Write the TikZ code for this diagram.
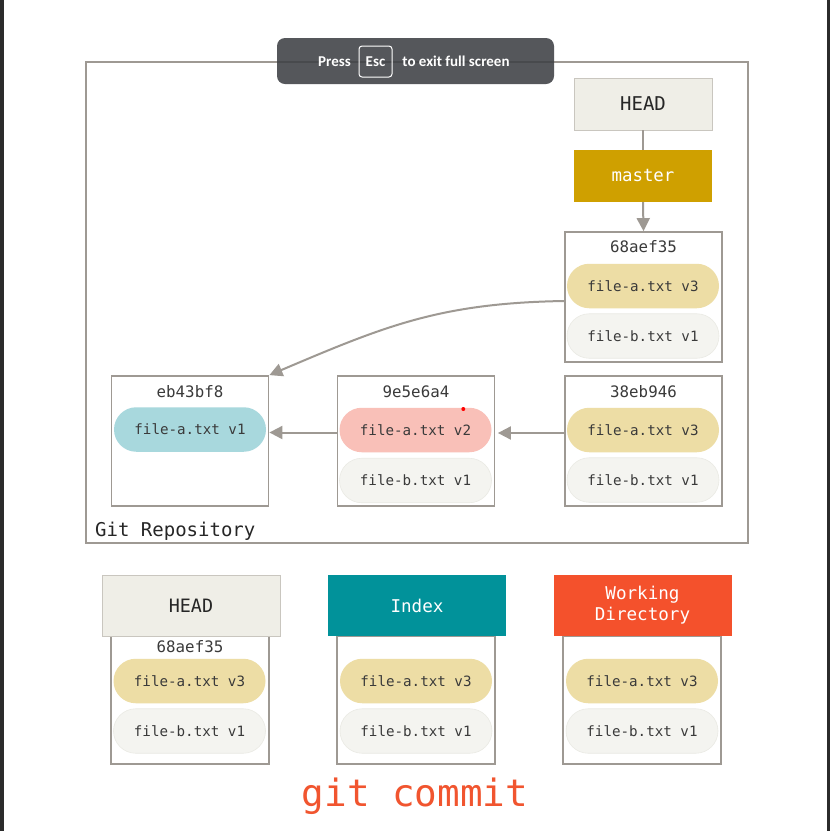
\documentclass[tikz,border=0pt]{standalone}
\usepackage{fontspec}
\setmonofont{DejaVu Sans Mono}
\newfontfamily\uifont{Carlito}
\usetikzlibrary{arrows.meta,shapes.misc,calc}
\definecolor{linec}{HTML}{9E9993}
\definecolor{headfill}{HTML}{EFEEE7}
\definecolor{headdraw}{HTML}{C9C6BF}
\definecolor{masterc}{HTML}{CFA000}
\definecolor{pillA}{HTML}{EDDDA5}
\definecolor{pillB}{HTML}{F4F4F0}
\definecolor{pillBd}{HTML}{EAEAE4}
\definecolor{pillC}{HTML}{A8D8DD}
\definecolor{pillP}{HTML}{F9C0B8}
\definecolor{tealc}{HTML}{01929A}
\definecolor{orangec}{HTML}{F4512C}
\definecolor{cmdc}{HTML}{F1552F}
\definecolor{txtc}{HTML}{3A3A3A}
\definecolor{overlayc}{HTML}{3C3F43}
\definecolor{stripc}{HTML}{2B2B2B}
\tikzset{
  commitbox/.style={draw=linec, line width=1.8pt, fill=white, minimum width=157pt, minimum height=130pt, inner sep=0pt},
  pill/.style={rounded rectangle, minimum width=152pt, minimum height=44.5pt, inner sep=0pt, font=\ttfamily\fontsize{14.2}{16}\selectfont, text=txtc},
  pilla/.style={pill, fill=pillA},
  pillb/.style={pill, fill=pillB, draw=pillBd, line width=0.6pt},
  pillc/.style={pill, fill=pillC},
  pillp/.style={pill, fill=pillP},
  hashlbl/.style={font=\ttfamily\fontsize{15.8}{18}\selectfont, text=txtc, inner sep=0pt},
  refbox/.style={minimum width=138pt, minimum height=52pt, inner sep=0pt},
  hdrbox/.style={minimum width=178pt, minimum height=61pt, inner sep=0pt, font=\ttfamily\fontsize{17.6}{21}\selectfont, align=center},
  arr/.style={draw=linec, line width=2pt, -{Triangle[length=13pt,width=13pt]}},
  plainline/.style={draw=linec, line width=2pt},
  uitext/.style={font=\uifont\bfseries\fontsize{15}{17}\selectfont, text=white, inner sep=0pt},
}
\begin{document}
\begin{tikzpicture}[x=1pt,y=-1pt]
\useasboundingbox (0,0) rectangle (830,831);
\fill[white] (0,0) rectangle (830,831);
\fill[stripc] (0,0) rectangle (4,831);
\fill[stripc] (827,0) rectangle (830,831);

% Git repository frame
\node[draw=linec, line width=1.8pt, minimum width=662pt, minimum height=481pt, inner sep=0pt] (repo) at (417,302.5) {};
\node[anchor=base west, inner sep=0pt, font=\ttfamily\fontsize{19}{22}\selectfont, text=black!85] (repolbl) at (95,536.5) {Git Repository};

% HEAD and master
\node[refbox, fill=headfill, draw=headdraw, line width=0.8pt, font=\ttfamily\fontsize{19}{22}\selectfont, text=black!85] (head) at (643,104) {HEAD};
\node[refbox, fill=masterc, font=\ttfamily\fontsize{17.4}{20}\selectfont, text=white] (master) at (643,176) {master};
\draw[plainline] (head.south) -- (master.north);

% commit 68aef35
\node[commitbox] (c4) at (643.5,297) {};
\node[hashlbl] (c4l) at (643.5,247) {68aef35};
\node[pilla] (c4a) at (643,286) {file-a.txt v3};
\node[pillb] (c4b) at (643,336) {file-b.txt v1};
\draw[arr] (master.south) -- (c4.north);

% commit eb43bf8
\node[commitbox] (c1) at (190,441) {};
\node[hashlbl] (c1l) at (190,392) {eb43bf8};
\node[pillc] (c1a) at (190,429.5) {file-a.txt v1};

% commit 9e5e6a4
\node[commitbox] (c2) at (416,441) {};
\node[hashlbl] (c2l) at (416,392) {9e5e6a4};
\node[pillp] (c2a) at (415.5,430) {file-a.txt v2};
\node[pillb] (c2b) at (415.5,480.5) {file-b.txt v1};
\fill[red] (463.3,409) circle (2pt);

% commit 38eb946
\node[commitbox] (c3) at (643.5,441) {};
\node[hashlbl] (c3l) at (643.5,392) {38eb946};
\node[pilla] (c3a) at (643,430) {file-a.txt v3};
\node[pillb] (c3b) at (643,480) {file-b.txt v1};

% arrows between commits
\draw[arr] ($(c2.west)+(0,-8.5)$) -- ($(c1.east)+(0,-8.5)$);
\draw[arr] ($(c3.west)+(0,-8)$) -- ($(c2.east)+(2.5,-8)$);
\coordinate (cstart) at ($(c4.west)+(0,4)$);
\draw[arr] (cstart) .. controls (440,303) and (385,326) .. (c1.north east);

% bottom: HEAD
\node[draw=linec, line width=1.8pt, minimum width=158pt, minimum height=128pt, inner sep=0pt] (bh) at (190,700) {};
\node[hdrbox, fill=headfill, draw=headdraw, line width=0.8pt, font=\ttfamily\fontsize{18.4}{21}\selectfont, text=black!85] (bhh) at (191,605.5) {HEAD};
\node[hashlbl] (bhl) at (190,647) {68aef35};
\node[pilla] (bha) at (189.5,681) {file-a.txt v3};
\node[pillb] (bhb) at (189.5,731) {file-b.txt v1};

% bottom: Index
\node[draw=linec, line width=1.8pt, minimum width=158pt, minimum height=128pt, inner sep=0pt] (bi) at (416,700) {};
\node[hdrbox, fill=tealc, text=white] (bih) at (417,605.5) {Index};
\node[pilla] (bia) at (416,681) {file-a.txt v3};
\node[pillb] (bib) at (416,731) {file-b.txt v1};

% bottom: Working Directory
\node[draw=linec, line width=1.8pt, minimum width=158pt, minimum height=128pt, inner sep=0pt] (bw) at (642,700) {};
\node[hdrbox, fill=orangec, text=white] (bwh) at (642.5,605.5) {Working\\Directory};
\node[pilla] (bwa) at (642,681) {file-a.txt v3};
\node[pillb] (bwb) at (642,731) {file-b.txt v1};

% command
\node[anchor=base, inner sep=0pt, font=\ttfamily\fontsize{37.6}{40}\selectfont, text=cmdc] (cmd) at (415,806) {git commit};

% full-screen overlay
\node[fill=overlayc, fill opacity=0.87, rounded corners=8pt, minimum width=277pt, minimum height=46pt, inner sep=0pt] (ov) at (415.5,61) {};
\node[draw=white, line width=1pt, rounded corners=3pt, minimum width=33pt, minimum height=31pt, inner sep=0pt] (esc) at (375.5,61.5) {};
\node[uitext] (esct) at (375.5,61.5) {Esc};
\node[uitext] (presst) at (334.5,61.5) {Press};
\node[uitext] (exitt) at (456,61.5) {to exit full screen};
\end{tikzpicture}
\end{document}
